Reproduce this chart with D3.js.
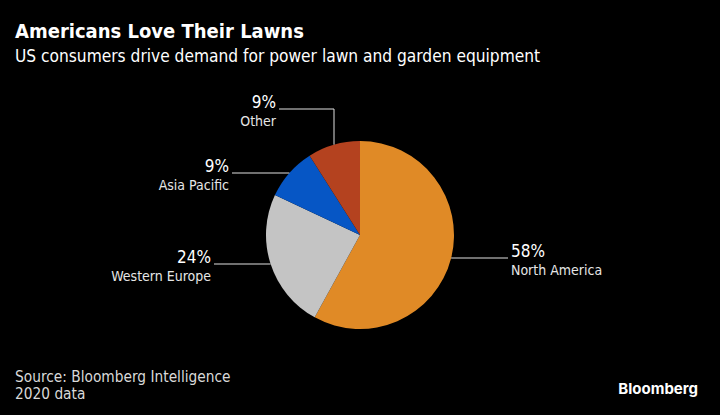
<!DOCTYPE html>
<html>
<head>
<meta charset="utf-8">
<script src="https://cdn.jsdelivr.net/npm/d3@7"></script>
<style>
  body { margin: 0; background: #000; }
  svg { display: block; }
  text { font-family: "DejaVu Sans Condensed", "DejaVu Sans", sans-serif; fill: #fff; }
  .title { font-weight: bold; font-size: 20px; }
  .subtitle { font-size: 17.2px; }
  .pct { font-size: 17px; }
  .name { font-size: 14px; fill: #e6e6e6; }
  .foot { font-size: 15.3px; fill: #d9d9d9; }
  .logo { font-family: "Inter", "Roboto", sans-serif; font-weight: bold; font-size: 15px; }
</style>
</head>
<body>
<script>
const labels = ['North America', 'Western Europe', 'Asia Pacific', 'Other'];
const values = [58, 24, 9, 9];
const colors = ['#e08a26', '#c4c4c4', '#0656c5', '#b4421f'];

const width = 720, height = 415;
const cx = 360, cy = 235, radius = 94;

const svg = d3.select('body')
  .append('svg')
  .attr('width', width)
  .attr('height', height);

svg.append('rect')
  .attr('width', width)
  .attr('height', height)
  .attr('fill', '#000');

svg.append('text')
  .attr('class', 'title')
  .attr('x', 15)
  .attr('y', 38)
  .text('Americans Love Their Lawns');

svg.append('text')
  .attr('class', 'subtitle')
  .attr('x', 15)
  .attr('y', 62)
  .text('US consumers drive demand for power lawn and garden equipment');

const data = labels.map((d, i) => ({ label: d, value: values[i], color: colors[i] }));

const pie = d3.pie().value(d => d.value).sort(null);
const arc = d3.arc().innerRadius(0).outerRadius(radius);
const arcs = pie(data);

const g = svg.append('g')
  .attr('transform', `translate(${cx}, ${cy})`);

g.selectAll('path')
  .data(arcs)
  .enter()
  .append('path')
  .attr('d', arc)
  .attr('fill', d => d.data.color);

// leader lines: offsets relative to pie centre
const leaders = [
  { y: 23, x0: null, x1: 148, side: 'right' },
  { y: 29, x0: null, x1: -146, side: 'left' },
  { y: -62, x0: null, x1: -128, side: 'left' },
  { y: -126, x0: -26, x1: -81, side: 'left', elbow: true }
];

arcs.forEach((a, i) => {
  const L = leaders[i];
  let path;
  if (L.elbow) {
    const yEdge = -Math.sqrt(radius * radius - L.x0 * L.x0);
    path = `M${L.x0},${yEdge}V${L.y}H${L.x1}`;
  } else {
    const xe = Math.sqrt(radius * radius - L.y * L.y) * (L.side === 'right' ? 1 : -1);
    path = `M${xe},${L.y}H${L.x1}`;
  }
  g.append('path')
    .attr('d', path)
    .attr('fill', 'none')
    .attr('stroke', '#e0e0e0')
    .attr('stroke-width', 1);

  const tx = L.side === 'right' ? L.x1 + 3 : L.x1 - 3;
  const anchor = L.side === 'right' ? 'start' : 'end';
  g.append('text')
    .attr('class', 'pct')
    .attr('x', tx)
    .attr('y', L.y - 1)
    .attr('text-anchor', anchor)
    .text(`${values[i]}%`);
  g.append('text')
    .attr('class', 'name')
    .attr('x', tx)
    .attr('y', L.y + 17)
    .attr('text-anchor', anchor)
    .text(labels[i]);
});

svg.append('text')
  .attr('class', 'foot')
  .attr('x', 15)
  .attr('y', 382)
  .text('Source: Bloomberg Intelligence');

svg.append('text')
  .attr('class', 'foot')
  .attr('x', 15)
  .attr('y', 399)
  .text('2020 data');

svg.append('text')
  .attr('class', 'logo')
  .attr('x', 698)
  .attr('y', 394)
  .attr('text-anchor', 'end')
  .text('Bloomberg');
</script>
</body>
</html>
